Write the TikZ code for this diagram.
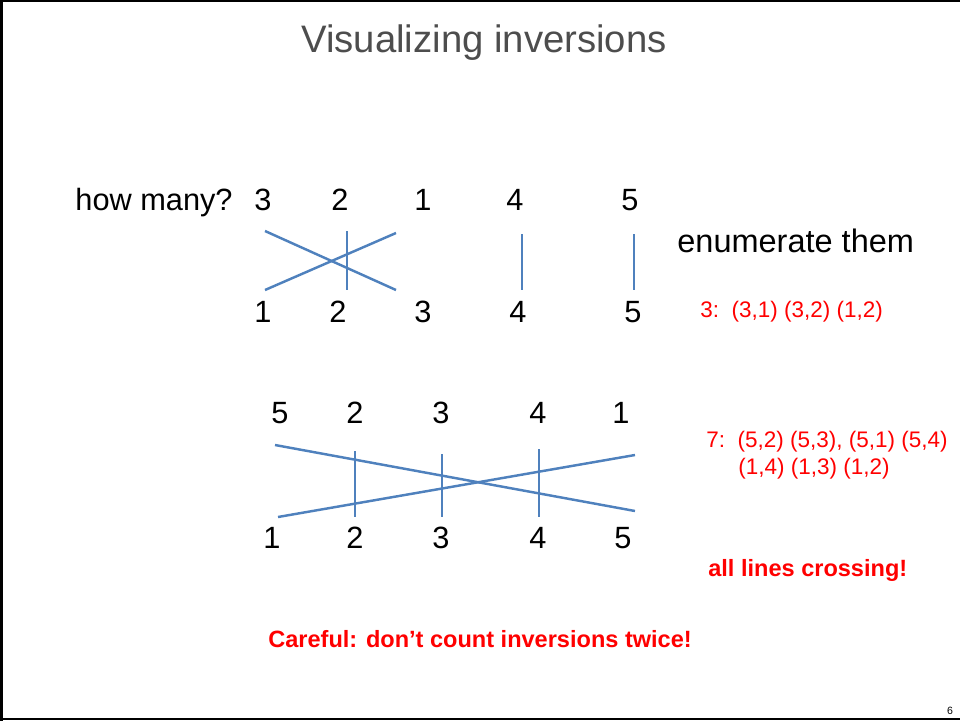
\documentclass[tikz,border=0pt]{standalone}
\usepackage{fontspec}
\setmainfont{Liberation Sans}
\usepackage{tikz}
\usepackage{xcolor}
\definecolor{wireblue}{RGB}{79,129,189}
\definecolor{notered}{RGB}{255,0,0}
\definecolor{titlegray}{RGB}{77,77,77}

\tikzset{
  digit/.style={anchor=base,inner sep=0pt,font=\fontsize{17.5}{20}\selectfont},
  note/.style={anchor=base west,inner sep=0pt,text=notered,font=\fontsize{12.8}{15}\selectfont},
  warn/.style={anchor=base west,inner sep=0pt,text=notered,font=\bfseries\fontsize{13.4}{16}\selectfont},
  wire/.style={wireblue,line width=1.4pt}
}

\begin{document}
\begin{tikzpicture}[x=0.02cm,y=-0.02cm]
    \useasboundingbox (0,0) rectangle (960,721);
    % Slide frame
    \draw[line width=1.1pt] (0,1)--(960,1);
    \draw[line width=1.1pt] (0,719)--(960,719);
    \draw[line width=1.7pt] (1.5,0)--(1.5,721);

    % Title
    \node[anchor=base,inner sep=0pt,text=titlegray,font=\fontsize{21.8}{26}\selectfont] (title) at (484,52) {Visualizing inversions};

    % First permutation
    \node[anchor=base east,inner sep=0pt,font=\fontsize{17.5}{20}\selectfont] (ask) at (233,210) {how many?};
    \node[digit] (ta) at (263,210) {3};
    \node[digit] (tb) at (340,210) {2};
    \node[digit] (tc) at (423,210) {1};
    \node[digit] (td) at (515,210) {4};
    \node[digit] (te) at (630,210) {5};
    \node[digit] (ba) at (263,322) {1};
    \node[digit] (bb) at (338,322) {2};
    \node[digit] (bc) at (423,322) {3};
    \node[digit] (bd) at (518,322) {4};
    \node[digit] (be) at (633,322) {5};
    \coordinate (pa) at (265,231); \coordinate (qa) at (396,290);
    \coordinate (pb) at (396,233); \coordinate (qb) at (265,290);
    \coordinate (pc) at (347,231); \coordinate (qc) at (347,290);
    \coordinate (pd) at (522,234); \coordinate (qd) at (522,290);
    \coordinate (pe) at (634,234); \coordinate (qe) at (634,290);
    \foreach \s in {a,b,c,d,e}
        \draw[wire] (p\s)--(q\s);
    \node[anchor=base west,inner sep=0pt,font=\fontsize{18.5}{22}\selectfont] (enum) at (677,252) {enumerate them};
    \node[note] (threeinv) at (700,317) {3:\ \ (3,1) (3,2) (1,2)};

    % Second permutation
    \node[digit] (ua) at (280,423) {5};
    \node[digit] (ub) at (355,423) {2};
    \node[digit] (uc) at (441,423) {3};
    \node[digit] (ud) at (538,423) {4};
    \node[digit] (ue) at (621,423) {1};
    \node[digit] (va) at (272,548) {1};
    \node[digit] (vb) at (355,548) {2};
    \node[digit] (vc) at (441,548) {3};
    \node[digit] (vd) at (538,548) {4};
    \node[digit] (ve) at (623,548) {5};
    \coordinate (ra) at (275,445); \coordinate (sa) at (635,511);
    \coordinate (rb) at (635,455); \coordinate (sb) at (278,517);
    \coordinate (rc) at (355,451); \coordinate (sc) at (355,517);
    \coordinate (rd) at (442,454); \coordinate (sd) at (442,517);
    \coordinate (re) at (539,449); \coordinate (se) at (539,517);
    \foreach \s in {a,b,c,d,e}
        \draw[wire] (r\s)--(s\s);
    \node[note] (seveninv) at (706,447) {7:\ \ (5,2) (5,3), (5,1) (5,4)};
    \node[note] (seveninvb) at (738,474) {(1,4) (1,3) (1,2)};
    \node[warn] (cross) at (708,576) {all lines crossing!};

    % Warning
    \node[warn] (careful) at (268,647) {Careful: don't count inversions twice!};
    \node[anchor=base,inner sep=0pt,font=\fontsize{6}{7}\selectfont] (pagenum) at (950,714) {6};
\end{tikzpicture}
\end{document}
